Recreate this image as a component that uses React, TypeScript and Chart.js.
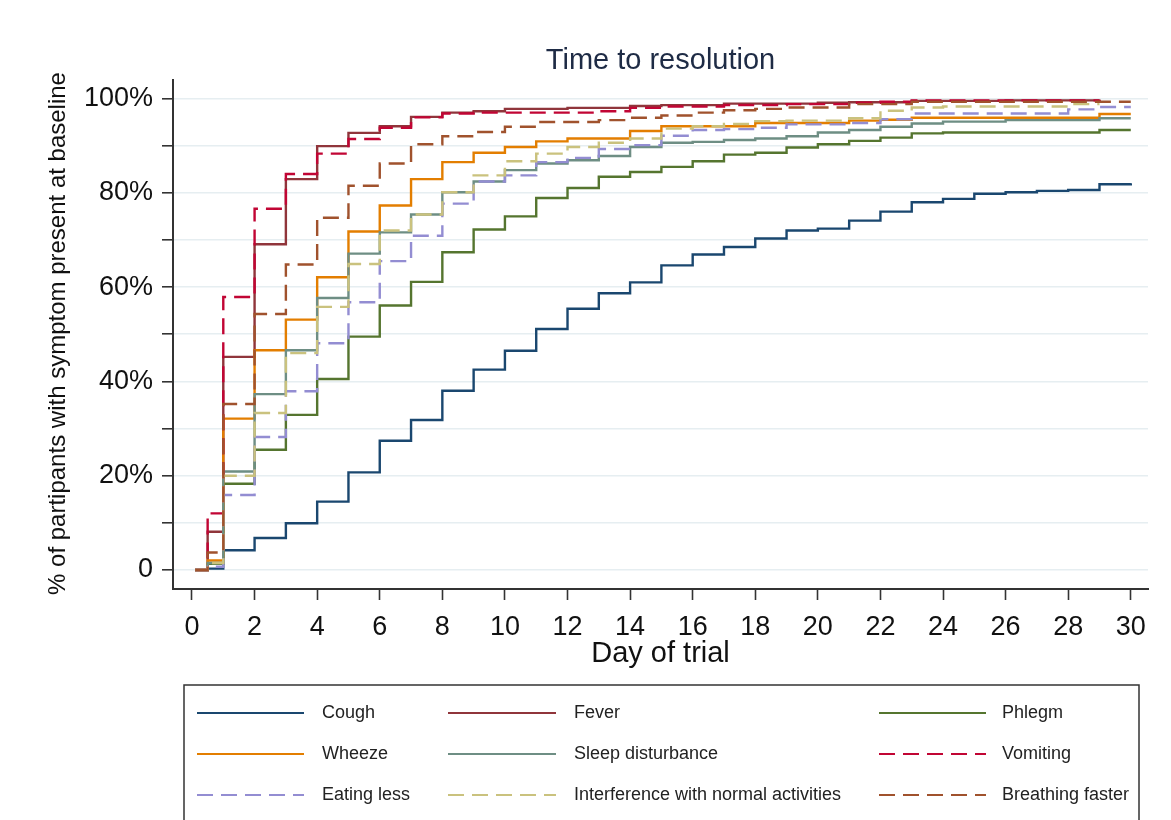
import React, { useEffect, useRef } from 'react';
import { Chart, registerables } from 'chart.js';

Chart.register(...registerables);

const TITLE = 'Time to resolution';
const X_TITLE = 'Day of trial';
const Y_TITLE = '% of partipants with symptom present at baseline';

// step times (days); the last entry is the end of follow-up
const stepDays = [0.1, 0.5, 1, 2, 3, 4, 5, 6, 7, 8, 9, 10, 11, 12, 13, 14, 15, 16, 17, 18, 19, 20, 21, 22, 23, 24, 25, 26, 27, 28, 29, 30];

const xTickValues = [0, 2, 4, 6, 8, 10, 12, 14, 16, 18, 20, 22, 24, 26, 28, 30];
const yTickValues = [0, 10, 20, 30, 40, 50, 60, 70, 80, 90, 100];
const yTickLabels = ['0', '', '20%', '', '40%', '', '60%', '', '80%', '', '100%'];

const labels = ['Cough', 'Fever', 'Phlegm', 'Wheeze', 'Sleep disturbance', 'Vomiting', 'Eating less', 'Interference with normal activities', 'Breathing faster'];
const colors = ['#1a476f', '#90353b', '#55752f', '#e37e00', '#6e8e84', '#c10534', '#938dd2', '#cac27e', '#a0522d'];
const dashed = [false, false, false, false, false, true, true, true, true];

const cough = [0, 0.3, 4.2, 6.8, 9.9, 14.5, 20.7, 27.4, 31.8, 38.0, 42.5, 46.5, 51.1, 55.4, 58.7, 61.0, 64.6, 66.9, 68.5, 70.3, 72.0, 72.4, 74.1, 76.0, 78.0, 78.7, 79.8, 80.1, 80.4, 80.6, 81.8, 82.0];
const fever = [0, 8.1, 45.2, 69.1, 82.9, 89.9, 92.7, 94.1, 96.1, 97.0, 97.3, 97.8, 97.8, 98.0, 98.0, 98.4, 98.6, 98.6, 98.9, 98.9, 98.9, 99.1, 99.2, 99.2, 99.5, 99.5, 99.5, 99.6, 99.6, 99.6, 99.8, null];
const phlegm = [0, 1.3, 18.3, 25.5, 32.9, 40.5, 49.5, 56.1, 61.1, 67.4, 72.2, 75.0, 78.9, 81.0, 83.4, 84.4, 85.5, 86.7, 88.1, 88.5, 89.6, 90.3, 91.0, 91.7, 92.6, 92.8, 92.8, 92.8, 92.8, 92.8, 93.3, 93.3];
const wheeze = [0, 2.0, 32.1, 46.6, 53.1, 62.1, 71.8, 77.3, 82.9, 86.5, 88.5, 89.7, 90.9, 91.5, 91.5, 93.1, 94.1, 94.1, 94.1, 94.8, 94.8, 94.8, 95.3, 95.5, 95.9, 95.9, 95.9, 95.9, 95.9, 95.9, 96.7, 96.7];
const sleep = [0, 1.5, 20.9, 37.3, 46.6, 57.7, 67.1, 71.6, 75.4, 80.1, 82.4, 84.8, 86.2, 86.9, 87.8, 89.7, 90.6, 90.8, 91.2, 91.5, 92.0, 92.8, 93.3, 94.0, 94.7, 95.1, 95.1, 95.4, 95.4, 95.4, 95.8, 95.8];
const vomiting = [0, 12.0, 57.9, 76.6, 84.0, 88.3, 91.4, 93.8, 96.0, 96.8, 97.0, 97.0, 97.0, 97.0, 97.3, 98.0, 98.3, 98.3, 98.6, 98.6, 98.8, 98.8, 99.1, 99.3, 99.6, 99.6, 99.6, 99.6, 99.6, 99.6, 99.7, null];
const eatingLess = [0, 0.7, 15.9, 28.2, 37.9, 48.1, 56.8, 65.5, 70.9, 77.7, 82.4, 83.7, 86.5, 87.4, 89.3, 90.1, 92.1, 93.3, 93.5, 93.8, 94.5, 94.5, 94.8, 95.6, 96.8, 96.8, 96.8, 96.8, 96.8, 97.7, 98.2, 98.2];
const interference = [0, 1.5, 20.0, 33.3, 46.0, 55.8, 64.9, 72.0, 75.4, 80.1, 83.7, 86.7, 88.3, 89.7, 90.6, 91.5, 93.6, 94.1, 94.6, 95.2, 95.3, 95.3, 95.8, 97.4, 98.1, 98.3, 98.3, 98.3, 98.3, 98.8, 98.8, null];
const breathing = [0, 3.7, 35.2, 54.3, 64.8, 74.7, 81.5, 86.2, 90.3, 92.0, 92.9, 94.0, 95.0, 95.0, 95.4, 95.9, 96.4, 97.0, 97.5, 97.8, 98.1, 98.1, 98.8, 98.8, 99.3, 99.3, 99.3, 99.3, 99.3, 99.3, 99.3, 99.3];

const seriesValues = [cough, fever, phlegm, wheeze, sleep, vomiting, eatingLess, interference, breathing];

const FONT = '"Liberation Sans", Arial, Helvetica, sans-serif';
const DASH = [16, 8];

const decorPlugin = {
  id: 'decor',
  afterDraw(chart: any) {
    const ctx = chart.ctx as CanvasRenderingContext2D;
    const ca = chart.chartArea;
    const cx = (ca.left + ca.right) / 2;
    ctx.save();
    ctx.textBaseline = 'middle';
    ctx.textAlign = 'center';
    // title
    ctx.fillStyle = '#1e2b45';
    ctx.font = `29px ${FONT}`;
    ctx.fillText(TITLE, cx, 61);
    // x title
    ctx.fillStyle = '#111';
    ctx.font = `29px ${FONT}`;
    ctx.fillText(X_TITLE, cx, 654);
    // y title
    ctx.save();
    ctx.translate(58, (ca.top + ca.bottom) / 2 - 1);
    ctx.rotate(-Math.PI / 2);
    ctx.font = `24px ${FONT}`;
    ctx.fillText(Y_TITLE, 0, 0);
    ctx.restore();

    // legend box
    ctx.strokeStyle = '#333';
    ctx.lineWidth = 1.5;
    ctx.strokeRect(184, 685, 955, 200);
    const lineX = [[197, 304], [448, 556], [879, 986]];
    const textX = [322, 574, 1002];
    const rowY = [713, 754, 795];
    ctx.textAlign = 'left';
    ctx.font = `18px ${FONT}`;
    chart.data.datasets.forEach((ds: any, i: number) => {
      const col = i % 3;
      const row = Math.floor(i / 3);
      const y = rowY[row];
      ctx.beginPath();
      ctx.strokeStyle = ds.borderColor;
      ctx.lineWidth = 2;
      ctx.setLineDash(ds.borderDash || []);
      ctx.moveTo(lineX[col][0], y);
      ctx.lineTo(lineX[col][1], y);
      ctx.stroke();
      ctx.setLineDash([]);
      ctx.fillStyle = '#222';
      ctx.fillText(ds.label, textX[col], y);
    });
    ctx.restore();
  },
};

export default function App() {
  const canvasRef = useRef<HTMLCanvasElement | null>(null);

  useEffect(() => {
    document.body.style.margin = '0';
    document.body.style.overflow = 'hidden';
    const canvas = canvasRef.current;
    if (!canvas) return;

    const datasets = labels.map((label, i) => ({
      label,
      data: stepDays.map((d, j) => ({ x: d, y: seriesValues[i][j] })),
      borderColor: colors[i],
      backgroundColor: colors[i],
      borderWidth: 2.4,
      borderDash: dashed[i] ? DASH : [],
      stepped: 'before' as const,
      pointRadius: 0,
      fill: false,
      spanGaps: false,
      order: labels.length - i,
    }));

    const chart = new Chart(canvas, {
      type: 'line',
      data: { datasets },
      options: {
        animation: false,
        responsive: false,
        maintainAspectRatio: false,
        devicePixelRatio: 1,
        layout: { padding: { left: 0, right: 23, top: 80, bottom: 0 } },
        plugins: {
          legend: { display: false },
          title: { display: false },
          tooltip: { enabled: false },
        },
        scales: {
          x: {
            type: 'linear',
            min: -0.607,
            max: 30.55,
            afterBuildTicks: (scale: any) => {
              scale.ticks = xTickValues.map((v) => ({ value: v }));
            },
            afterFit: (scale: any) => {
              scale.height = 820 - 589;
            },
            ticks: {
              autoSkip: false,
              maxRotation: 0,
              padding: 11,
              color: '#111',
              font: { family: FONT, size: 27 },
              callback: (v: any) => String(v),
            },
            grid: {
              drawOnChartArea: false,
              drawTicks: true,
              tickLength: 11,
              tickColor: '#333',
              tickWidth: 1.6,
            },
            border: { display: true, color: '#333', width: 2 },
          },
          y: {
            type: 'linear',
            min: -4.03,
            max: 103.92,
            afterBuildTicks: (scale: any) => {
              scale.ticks = yTickValues.map((v) => ({ value: v }));
            },
            afterFit: (scale: any) => {
              scale.width = 173;
            },
            ticks: {
              autoSkip: false,
              padding: 9,
              color: '#111',
              font: { family: FONT, size: 27 },
              callback: (v: any) => {
                const k = yTickValues.indexOf(Number(v));
                return k >= 0 ? yTickLabels[k] : '';
              },
            },
            grid: {
              color: '#e6eef1',
              lineWidth: 1.6,
              drawTicks: true,
              tickLength: 11,
              tickColor: '#333',
              tickWidth: 1.6,
            },
            border: { display: true, color: '#333', width: 2 },
          },
        },
      },
      plugins: [decorPlugin],
    });

    return () => {
      chart.destroy();
    };
  }, []);

  return (
    <div style={{ width: 1171, height: 820, background: '#fff' }}>
      <canvas ref={canvasRef} width={1171} height={820} style={{ display: 'block' }} />
    </div>
  );
}
